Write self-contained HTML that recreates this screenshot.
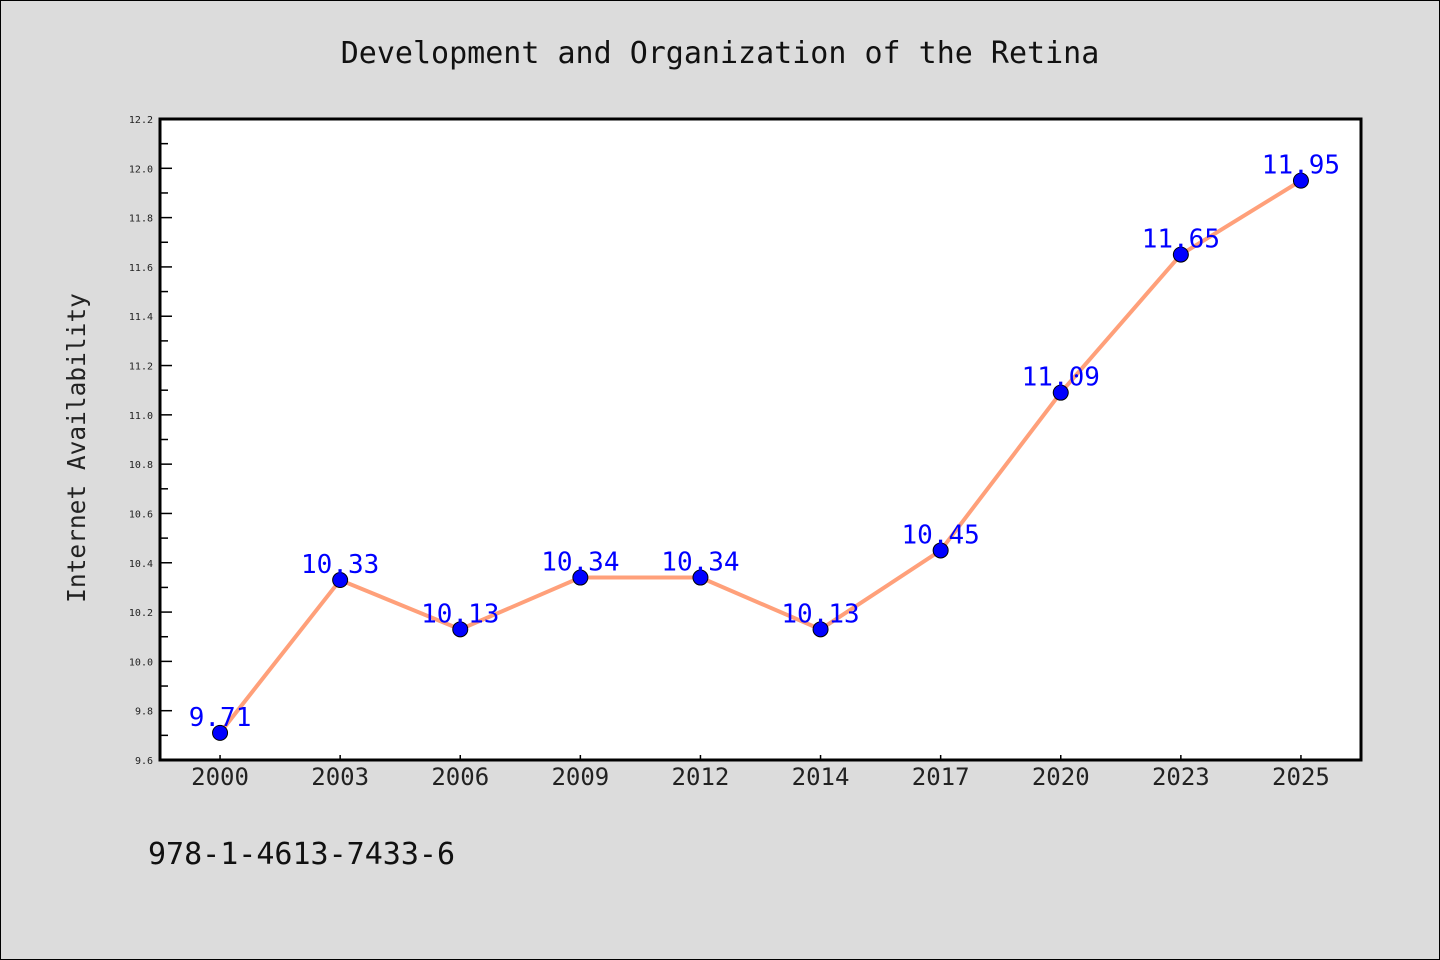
<!DOCTYPE html>
<html><head><meta charset="utf-8"><style>
body{margin:0;background:#dcdcdc;}
svg{display:block;font-family:"DejaVu Sans Mono","Liberation Mono",monospace;}
</style></head><body>
<svg width="1440" height="960">
<rect x="0.5" y="0.5" width="1439" height="959" fill="#dcdcdc" stroke="#000"/>
<text x="720" y="63" text-anchor="middle" font-size="30" fill="#111">Development and Organization of the Retina</text>
<rect x="160" y="119" width="1201" height="641" fill="#fff"/>
<g id="ticks"></g>
<g id="series"></g>
<rect x="160" y="119" width="1201" height="641" fill="none" stroke="#000" stroke-width="3"/>
<text x="85" y="448" transform="rotate(-90 85 448)" text-anchor="middle" font-size="24.5" fill="#222">Internet Availability</text>
<text x="148" y="864" font-size="30" fill="#111">978-1-4613-7433-6</text>
</svg>
<script>
const categories=["2000","2003","2006","2009","2012","2014","2017","2020","2023","2025"];
const values=[9.71,10.33,10.13,10.34,10.34,10.13,10.45,11.09,11.65,11.95];
const yTicks=[9.6,9.8,10.0,10.2,10.4,10.6,10.8,11.0,11.2,11.4,11.6,11.8,12.0,12.2];
const yMin=9.6,yMax=12.2;
const L=160,R=1361,T=119,B=760;
const NS="http://www.w3.org/2000/svg";
const band=(R-L)/categories.length;
const x=i=>L+band*(i+0.5);
const y=v=>B-(v-yMin)/(yMax-yMin)*(B-T);
function mk(tag,attrs,parent){const e=document.createElementNS(NS,tag);for(const k in attrs)e.setAttribute(k,attrs[k]);parent.appendChild(e);return e;}
const tg=document.getElementById('ticks'),sg=document.getElementById('series');
yTicks.forEach((t,i)=>{
  const yy=y(t);
  const ln=mk('line',{x1:L,x2:L+12,y1:yy,y2:yy,stroke:'#000','stroke-width':1.5},tg);
  
  
  const lb=mk('text',{x:L-7,y:yy+4,'text-anchor':'end','font-size':10,fill:'#222'},tg);
  lb.textContent=t.toFixed(1);
  
  
  if(i<yTicks.length-1){
    const my=y(t+0.1);
    const m=mk('line',{x1:L,x2:L+8,y1:my,y2:my,stroke:'#000','stroke-width':1.5},tg);
    
    
  }
});
categories.forEach((c,i)=>{
  const t=mk('line',{x1:x(i),x2:x(i),y1:B,y2:B-5,stroke:'#000','stroke-width':1.5},tg);
  
  
  const lb=mk('text',{x:x(i),y:B+25,'text-anchor':'middle','font-size':24,fill:'#222'},tg);
  lb.textContent=c;
  
  
});
const pl=mk('polyline',{points:values.map((v,i)=>x(i)+','+y(v)).join(' '),fill:'none',stroke:'#ffa07a','stroke-width':4},sg);


values.forEach((v,i)=>{
  const c=mk('circle',{cx:x(i),cy:y(v),r:7.5,fill:'#0000ff',stroke:'#000','stroke-width':1},sg);
  
  
  const t=mk('text',{x:x(i),y:y(v)-7,'text-anchor':'middle','font-size':26,fill:'#0000ff'},sg);
  t.textContent=v.toFixed(2);
  
  
});
</script>
</body></html>
